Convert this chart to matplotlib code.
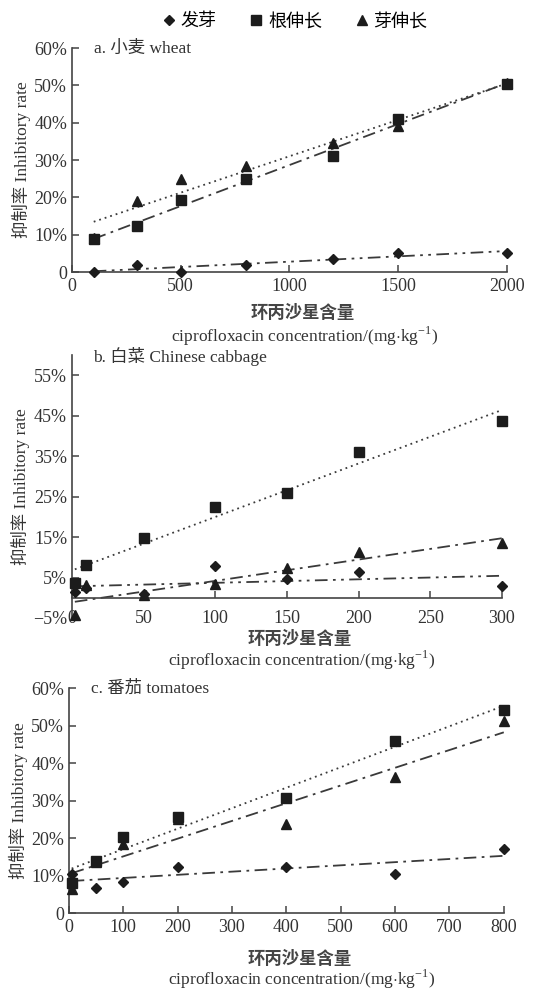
import numpy as np
import matplotlib.pyplot as plt
from matplotlib.ticker import FuncFormatter, MultipleLocator
from matplotlib.lines import Line2D

plt.rcParams['font.family'] = ['Liberation Serif', 'Noto Sans CJK SC']
plt.rcParams['mathtext.fontset'] = 'custom'
plt.rcParams['mathtext.rm'] = 'Liberation Serif'
plt.rcParams['axes.unicode_minus'] = True

# series names (legend)
names = ['发芽', '根伸长', '芽伸长']
markers = ['D', 's', '^']

# a. wheat
x_a = [100, 300, 500, 800, 1200, 1500, 2000]
germ_a = [0.0, 2.0, 0.0, 2.0, 3.5, 5.1, 5.1]
root_a = [8.8, 12.2, 19.2, 24.8, 31.0, 41.0, 50.4]
shoot_a = [9.0, 18.9, 25.0, 28.3, 34.6, 39.0, 50.6]

# b. Chinese cabbage
x_b = [2, 10, 50, 100, 150, 200, 300]
germ_b = [1.5, 2.5, 0.9, 7.9, 4.7, 6.3, 3.0]
root_b = [3.6, 8.1, 14.7, 22.4, 26.0, 36.0, 43.8]
shoot_b = [-4.3, 3.1, 0.7, 3.5, 7.4, 11.2, 13.5]

# c. tomatoes
x_c = [5, 50, 100, 200, 400, 600, 800]
germ_c = [10.5, 6.8, 8.4, 12.2, 12.2, 10.4, 17.2]
root_c = [8.0, 13.8, 20.3, 25.6, 30.8, 46.0, 54.2]
shoot_c = [6.4, 13.5, 18.5, 25.0, 23.8, 36.2, 51.1]

dotted = (0, (1, 2.2))
dashdot = (0, (7, 3, 1.5, 3))
dashdotdot = (0, (7, 3, 1.5, 3, 1.5, 3))

col = '#1c1c1c'
lcol = '#3a3a3a'
tcol = '#333333'


def pct(v, pos):
    if abs(v) < 1e-9:
        return '0'
    return '%g%%' % v if v > 0 else '\u2212%g%%' % abs(v)


fig = plt.figure(figsize=(5.47, 9.91), dpi=100)

panels = [
    dict(rect=[0.1316, 0.7255, 0.795, 0.226], x=x_a,
         ys=[germ_a, root_a, shoot_a], styles=[dashdotdot, dashdot, dotted],
         xlim=(0, 2000), xstep=500, ylim=(0, 60), yticks=np.arange(0, 61, 10),
         title='a. 小麦 wheat', lab_y=(-0.185, -0.285), pad=4),
    dict(rect=[0.1316, 0.3764, 0.786, 0.2654], x=x_b,
         ys=[germ_b, root_b, shoot_b], styles=[dashdotdot, dotted, dashdot],
         xlim=(0, 300), xstep=50, ylim=(-5, 60), yticks=np.arange(-5, 56, 10),
         title='b. 白菜 Chinese cabbage', lab_y=(-0.08, -0.16), pad=9),
    dict(rect=[0.126, 0.0787, 0.795, 0.227], x=x_c,
         ys=[germ_c, root_c, shoot_c], styles=[dashdot, dotted, dashdot],
         xlim=(0, 800), xstep=100, ylim=(0, 60), yticks=np.arange(0, 61, 10),
         title='c. 番茄 tomatoes', lab_y=(-0.205, -0.295), pad=4),
]

msize = [5.5, 6.5, 7]
for p in panels:
    ax = fig.add_axes(p['rect'])
    x = np.array(p['x'], dtype=float)
    for ys, m, ms, ls in zip(p['ys'], markers, msize, p['styles']):
        y = np.array(ys)
        k, b = np.polyfit(x, y, 1)
        xx = np.array([x.min(), x.max()])
        ax.plot(xx, k * xx + b, ls=ls, color=lcol, lw=1.3, zorder=2)
        ax.plot(x, y, ls='none', marker=m, ms=ms, color=col,
                clip_on=False, zorder=3)
    ax.set_xlim(*p['xlim'])
    ax.set_ylim(*p['ylim'])
    ax.xaxis.set_major_locator(MultipleLocator(p['xstep']))
    ax.set_yticks(p['yticks'])
    ax.yaxis.set_major_formatter(FuncFormatter(pct))
    for s in ['top', 'right']:
        ax.spines[s].set_visible(False)
    for s in ['left', 'bottom']:
        ax.spines[s].set_color('#444444')
        ax.spines[s].set_linewidth(1.2)
    ax.spines['bottom'].set_position(('data', 0))
    ax.tick_params(direction='in', length=5, width=1.1, color='#444444',
                   labelsize=13, labelcolor=tcol)
    ax.tick_params(axis='x', pad=p['pad'])
    ax.text(0.05, 0.995, p['title'], transform=ax.transAxes, fontsize=12.5,
            color=tcol, va='center', ha='left')
    ax.text(0.53, p['lab_y'][0], '环丙沙星含量', transform=ax.transAxes,
            fontsize=12.5, fontweight='bold', color='#444444',
            ha='center', va='center')
    ax.text(0.535, p['lab_y'][1],
            r'ciprofloxacin concentration/(mg$\cdot$kg$^{\mathrm{-1}}$)',
            transform=ax.transAxes, fontsize=12.5, color=tcol,
            ha='center', va='center')
    ax.set_ylabel('抑制率 Inhibitory rate', fontsize=12.5, color=tcol,
                  labelpad=2)

handles = [Line2D([], [], ls='none', marker=m, ms=s, color=col)
           for m, s in zip(markers, msize)]
fig.legend(handles, names, loc='center', bbox_to_anchor=(0.535, 0.978),
           ncol=3, frameon=False, handletextpad=0.05, handlelength=1.2,
           columnspacing=1.6, prop={'weight': 'medium', 'size': 13})

fig.savefig('out.png', dpi=100)
